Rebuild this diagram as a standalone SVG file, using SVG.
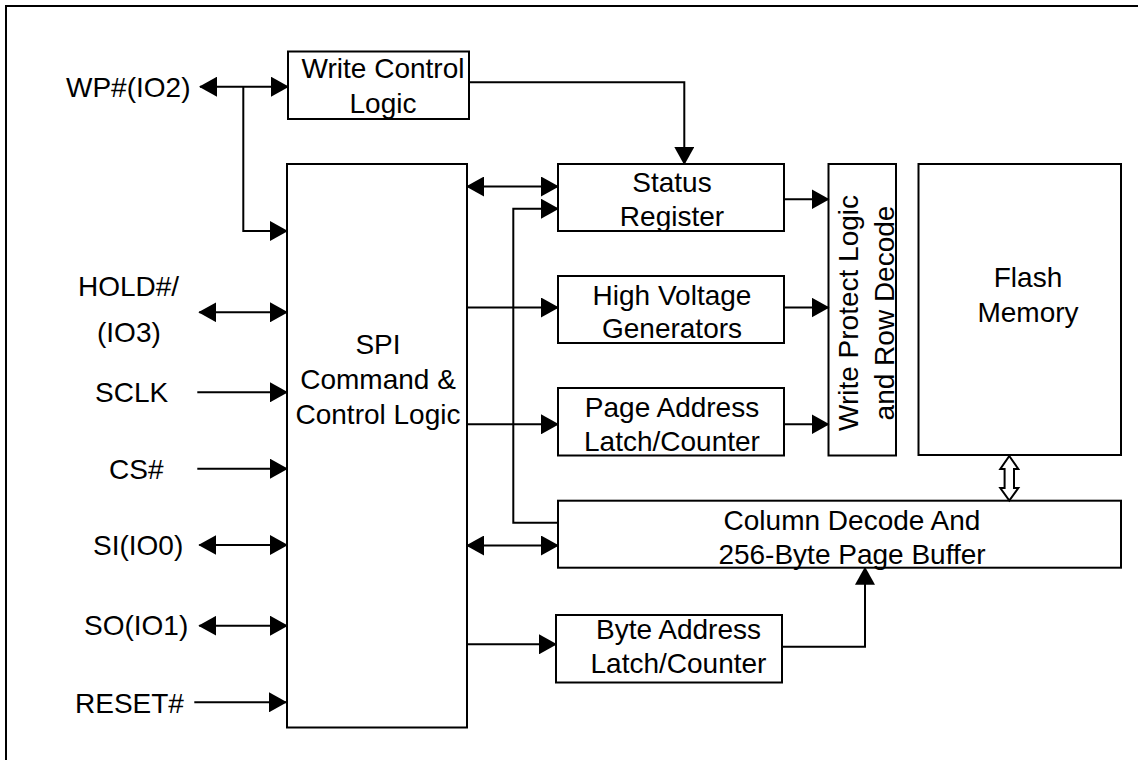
<svg xmlns="http://www.w3.org/2000/svg" width="1138" height="760" viewBox="0 0 1138 760">
<style>
.box{fill:#fff;stroke:#000;stroke-width:2}
.ln{fill:none;stroke:#000;stroke-width:2}
.a1{marker-end:url(#ah)}
.a2{marker-start:url(#ah);marker-end:url(#ah)}
text{font-family:"Liberation Sans",Arial,sans-serif;font-size:28px;fill:#000}
.c{text-anchor:middle}
</style>
<defs>
<marker id="ah" viewBox="0 0 18 20" refX="17" refY="10" markerWidth="18" markerHeight="20" markerUnits="userSpaceOnUse" orient="auto-start-reverse">
<path d="M0,0 L18,10 L0,20 z" fill="#000"/>
</marker>
</defs>
<rect x="6" y="6" width="1300" height="900" fill="#fff" stroke="#000" stroke-width="2"/>

<g id="labels">
<text x="66" y="97">WP#(IO2)</text>
<text x="78" y="296">HOLD#/</text>
<text x="97" y="341.5">(IO3)</text>
<text x="95" y="401.5">SCLK</text>
<text x="109" y="478.5">CS#</text>
<text x="93" y="555">SI(IO0)</text>
<text x="84" y="635">SO(IO1)</text>
<text x="75" y="712.5">RESET#</text>
</g>

<g id="write-control">
<rect class="box" x="288" y="51.5" width="181" height="67.5"/>
<text class="c" x="383" y="78">Write Control</text>
<text class="c" x="383" y="112.5">Logic</text>
</g>

<g id="spi">
<rect class="box" x="287" y="164" width="180" height="563.5"/>
<text class="c" x="378" y="354.3">SPI</text>
<text class="c" x="378" y="389">Command &amp;</text>
<text class="c" x="378" y="423.5">Control Logic</text>
</g>

<g id="status">
<rect class="box" x="558" y="164" width="226" height="67"/>
<text class="c" x="672" y="192">Status</text>
<text class="c" x="672" y="225.5">Register</text>
</g>

<g id="hv">
<rect class="box" x="558" y="276" width="226" height="67"/>
<text class="c" x="672" y="304.5">High Voltage</text>
<text class="c" x="672" y="338">Generators</text>
</g>

<g id="page">
<rect class="box" x="558" y="388" width="226" height="67.5"/>
<text class="c" x="672" y="416.7">Page Address</text>
<text class="c" x="672" y="450.5">Latch/Counter</text>
</g>

<g id="wprow">
<rect class="box" x="828.5" y="164" width="67.5" height="291.5"/>
<text class="c" transform="translate(858,313) rotate(-90)">Write Protect Logic</text>
<text class="c" transform="translate(894,313) rotate(-90)">and Row Decode</text>
</g>

<g id="flash">
<rect class="box" x="918.5" y="164" width="202.5" height="291"/>
<text class="c" x="1028" y="286.7">Flash</text>
<text class="c" x="1028" y="321.7">Memory</text>
</g>

<g id="column">
<rect class="box" x="558" y="500.7" width="563" height="67"/>
<text class="c" x="852" y="530">Column Decode And</text>
<text class="c" x="852" y="564">256-Byte Page Buffer</text>
</g>

<g id="byte">
<rect class="box" x="556" y="615" width="226" height="67.5"/>
<text class="c" x="678.5" y="639.3">Byte Address</text>
<text class="c" x="678.5" y="673.3">Latch/Counter</text>
</g>

<g id="connectors">
<line class="ln a2" x1="200" y1="86.7" x2="288" y2="86.7"/>
<path class="ln a1" d="M243.3,86.7 V231 H287"/>
<path class="ln a1" d="M469,82.3 H684.3 V164"/>
<line class="ln a2" x1="467" y1="186.5" x2="558" y2="186.5"/>
<path class="ln a1" d="M558,522.7 H513.3 V208.7 H558"/>
<line class="ln a1" x1="467" y1="307.5" x2="558" y2="307.5"/>
<line class="ln a1" x1="467" y1="424.3" x2="558" y2="424.3"/>
<line class="ln a2" x1="467" y1="545.5" x2="558" y2="545.5"/>
<line class="ln a1" x1="467" y1="644.3" x2="556" y2="644.3"/>
<path class="ln a1" d="M782,646.7 H865 V567.7"/>
<line class="ln a1" x1="784" y1="199.3" x2="828.5" y2="199.3"/>
<line class="ln a1" x1="784" y1="307.5" x2="828.5" y2="307.5"/>
<line class="ln a1" x1="784" y1="424.3" x2="828.5" y2="424.3"/>
<polygon points="1009.3,456 1018.3,469 1014,469 1014,488 1018.3,488 1009.3,500.5 1000.3,488 1004.6,488 1004.6,469 1000.3,469" fill="#fff" stroke="#000" stroke-width="2" stroke-linejoin="miter"/>
<line class="ln a2" x1="199.3" y1="312.3" x2="287" y2="312.3"/>
<line class="ln a1" x1="197.3" y1="392.3" x2="287" y2="392.3"/>
<line class="ln a1" x1="197.3" y1="468.7" x2="287" y2="468.7"/>
<line class="ln a2" x1="199.3" y1="545" x2="287" y2="545"/>
<line class="ln a2" x1="199.3" y1="625.7" x2="287" y2="625.7"/>
<line class="ln a1" x1="194.3" y1="702.3" x2="286" y2="702.3"/>
</g>
</svg>
